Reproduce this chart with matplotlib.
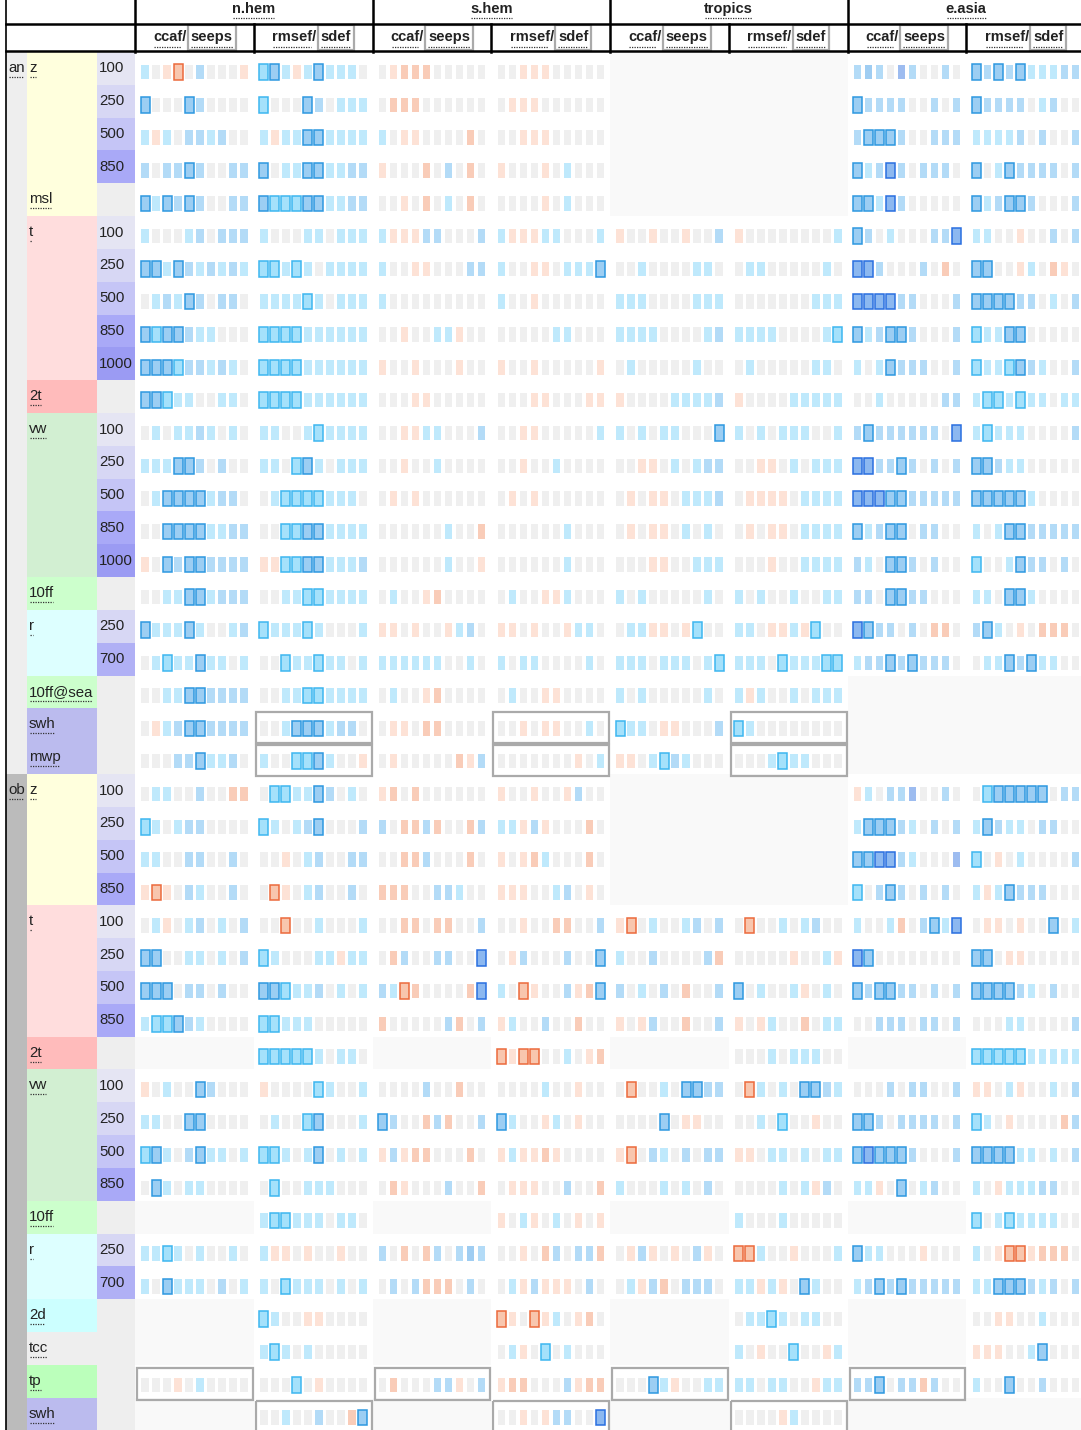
import matplotlib
matplotlib.use("Agg")
import matplotlib.pyplot as plt
from matplotlib.patches import Rectangle

plt.rcParams['font.family'] = ['Liberation Sans', 'DejaVu Sans']

# ---------------- data ----------------
regions = ["n.hem", "s.hem", "tropics", "e.asia"]
sub_left = ["ccaf/", "rmsef/"]
sub_right = ["seeps", "sdef"]

sections = [("an", 0, 22), ("ob", 22, 20)]
params = [  # (label, first row, n rows, colour)
    ("z", 0, 4, "#ffffdd"), ("msl", 4, 1, "#ffffdd"), ("t", 5, 5, "#ffdddd"),
    ("2t", 10, 1, "#ffbbbb"), ("vw", 11, 5, "#d2efd2"), ("10ff", 16, 1, "#ccffcc"),
    ("r", 17, 2, "#ddffff"), ("10ff@sea", 19, 1, "#ccffcc"), ("swh", 20, 1, "#bbbbee"),
    ("mwp", 21, 1, "#bbbbee"),
    ("z", 22, 4, "#ffffdd"), ("t", 26, 4, "#ffdddd"), ("2t", 30, 1, "#ffbbbb"),
    ("vw", 31, 4, "#d2efd2"), ("10ff", 35, 1, "#ccffcc"), ("r", 36, 2, "#ddffff"),
    ("2d", 38, 1, "#ccffff"), ("tcc", 39, 1, "#eeeeee"), ("tp", 40, 1, "#bbffbb"),
    ("swh", 41, 1, "#bbbbee"),
]
levels = ["100", "250", "500", "850", "", "100", "250", "500", "850", "1000", "",
          "100", "250", "500", "850", "1000", "", "250", "700", "", "", "",
          "100", "250", "500", "850", "100", "250", "500", "850", "",
          "100", "250", "500", "850", "", "250", "700", "", "", "", ""]

nhem_ccaf = ["c.oR.b...o", "X...Xb....", "coc.bbcb..", "b.bbXb..bb", "XcXbXb..bb",
             "c...cb.bbb", "XXcXbcbcbc", ".cbcXb.bb.", "XxXXbcc...", "XXXxbbcbc.",
             "XXxcc..cc.", ".c.ccbc.c.", "cccXXb.b..", ".cXXXXcbb.", "..XXXXccbb",
             "o.XbXXbbbb", "..ccXXcbbb", "XcccXc..cb", ".cxccXcc.c", "..ccXXbbbb",
             ".ocbXXbbbb", "...bbXccb.", ".cc..b..OO", "xc.cbb....", "cc..bb..b.",
             "oRo.bc..b.", ".co.cb.c.b", "XX..cc.c.b", "XXX.bb.b..", "cxxXbc....",
             "", "o.c..Xb...", "cc..XX....", "xXc.bXcc.c", ".Xc.cc....", "",
             "ccxc.c..c.", "c.Xccc.b.c", "", "", "...o.c....", ""]
nhem_rmsef = ["xXcocXccc.", "x...Xb.ccc", "coccXXcccc", "X.ccXXccbb", "XxxxXXccbb",
              "c...cc.ccc", "xxcxc.cccc", "ccccxc.ccc", "xxxxcccccc", "xxxxcccccc",
              "xxxxcccccc", "cc..cxcccc", "cc.xXc.ccc", ".cxxxxccc.", "..xxXXcccc",
              "ooxxXXcccb", "..ccxxcccc", "xcccxc...c", "..xccxcc.c", "..ccxxcccc",
              "..cXXXcbb.", "c..xxXc..o", ".xxccXb.c.", "xc.cbX...b", "..o.cb..bb",
              ".Ro.cb..b.", "..R..c...c", "xc...ccocc", "XXxccb.c.c", "xxccc.....",
              "xxxxxc.cc.", "o....xc..c", ".c..xX...c", "xxc.cX.c.c", ".x..ccc...",
              "cxxccc.cc.", "coo.o..o..", "c.xccc.c.c", "xc..oo....", "cxc.c.....",
              "...x.o....", "..c..b..OX"]
shem_ccaf = [".oOOO.....", ".OOO......", "c.oo....O.", "o...O.b.O.", "..o.O.c.O.",
             "cooobb...b", "c..oo...bb", "c.........", "..o..cco..", "o..o...o..",
             "...oo.....", "..oocc...b", "..o..c....", ".o.o......", "......c..O",
             "......c..o", ".c..oO....", "oo.o..ocb.", "cccccc..c.", ".c..oO....",
             ".oo.OO....", ".o.....Oob", "oO.O......", "b.OObO..Ob", "..OOb...O.",
             "OOO..bbc..", "..OO.OO..b", ".Ob..bb..Z", "bcRO....OZ", "O.....bO.b",
             "", "....b..O..", "Xb..ObO..b", "oboOO...O.", ".Oo...b..O", "",
             "b.O.Ob.bBb", ".b.bOOO.b.", "", "", ".O...bbo.b", ""]
shem_rmsef = ["..ooo.....", ".ooo......", "..ooo.....", "o...o.c...", "....o.c...",
              "cooocc...c", "c..oo.cccX", "c..o......", ".....cc...", "o..o.....o",
              "...oo...oo", "..oo.....c", "..o..c....", ".o.o......", "......c...",
              "......c...", ".c..ooc...", "oo.o..occ.", "c.cc....c.", ".c..oo....",
              "..o.oo..c.", ".......o.c", "o..o..ob..", "ccobo...O.", "o.oOc...O.",
              "ooo..cb.o.", "..o..OO..b", ".ob...b..X", "c.Ro..boOX", "oc..b..O..",
              "RoRR..c.oO", "....c..o..", "Xc..oc.o..", "ocooOo....", ".ooo..b..O",
              "o.co.c.o.o", "..o.Ob.bbO", ".cobooo.b.", "Ro.Roc.oO.", ".co.x.c...",
              "oOO...boOO", "..o.obb..Z"]
trop_ccaf = ["", "", "", "", "",
             "o..o..o..b", "..c....cc.", "ccc....ccc", "cccc....cb", ".c.....c..",
             "o....ccccb", "c.c.cc...X", "..oo.c.cbb", ".o.oo.cccb", ".o.oo.c.c.",
             "...oo..ccc", "c.c.....c.", ".ccoo.ox..", "ccc.ccc.cx", "c.c.....c.",
             "xcc.oo...b", "oo.cxbc...", "", "", "", "",
             "oR.c..cb.b", "c..b....bO", "b.c.b.O..b", "o.ob..O..b",
             "", ".R..c.XXbb", "....X.oo..", "oR.bc.b.bb", "c...c.c.b.", "",
             ".obo.o.bo.", ".cobO.bbb.", "", "", "...Xco..cc", ""]
trop_rmsef = ["", "", "", "", "",
              "o........c", ".cc.....c.", ".......ccc", "cccc....cx", ".c.....cc.",
              "o....ccccc", "c.c.ccc..c", "..oo.c.ccc", ".oooo.cccc", ".o.oo.cccc",
              "...o..cccc", "c.c..c..cc", "cc.oocox..", "ccc.xcccxx", "coc..c.ccc",
              "xc........", "...cxcc...", "", "", "", "",
              ".R..c.cb..", ".....o..co", "X.c..co.c.", "o.oc..O.cc",
              "...c.ccc..", ".Rc.c.XXbc", "..c.x..o..", "oo.cc.c.cc", "....c.cob.",
              "c...c.....", "RRc..o...c", "ccoco.Xc..", ".ccxc.cc..", "c.o..x..oc",
              "cc.cc..occ", "....oc...."]
easia_ccaf = ["bBb.db..b.", "Xbbbb..b.b", "bXXXb..bbb", "XcbZb.bbb.", "XXcZb.....",
              "Xb.c...bbZ", "ZZb...b.O.", "ZZZZbb...b", "XcbXXb...b", "c.cXbbb..b",
              "..c.....bb", "bXbbbbbb.Z", "ZZbbXb.b.b", "ZZZXXbbbbb", "XcbXX.bb..",
              "bc.XXb.b..", "bb.XXbb...", "ZXbb.b.OO.", "cbbXbXbbb.", "", "", "",
              "oc.bbd..b.", "cXXXbc.b.b", "XXZZbc...d", "x.bXb.b.b.",
              "c..cO.bXcZ", "ZX........", "XbXXbb.b.b", "..bbb.bb.b",
              "", "...b.bb..b", "XXb.bbbb.b", "XZXXXb...b", "cco.X.cb..", "",
              "Xcc...o...", "cbXbXbbbbb", "", "", "bbX.bbOb..", ""]
easia_rmsef = ["XbXbXcccbb", "Xbbbb.cb..", "ccccb.b..b", "X.cXbbbb.b", "XcbXXb...b",
               "cc..o..b.b", "XX..oc.Oo.", "XXXXbb.c.b", "xccXX.....", "xccxXbc..b",
               "cxxcxcc.cc", "cxccc....b", "XXbcc.....", "XXXXXc....", "c.cXXbbbbb",
               "x..cXbb.b.", "cc.XXc....", "bXc.o.OOO.", ".ccXbXcc..", "", "", "",
               ".xXXXXX.bb", "cXbcc.bb..", "x.o.c....b", "cocXbbb...",
               ".oo.o..X.c", "XX.oo.....", "XXXXbc.b..", "...cc....b",
               "xxxxxccccc", "oo.co..c.b", "xc.o....Ob", "XXXXcc.c.b", "c.occcbb..",
               "x.cxcccc..", "c.oRRoOOO.", "ccXXXbcb.b", "..oo..c...", "ooo..cX...",
               "c..X..b...", ""]

boxed = [(20, 0, 1), (21, 0, 1), (20, 1, 1), (21, 1, 1), (20, 2, 1), (21, 2, 1),
         (40, 0, 0), (40, 1, 0), (40, 2, 0), (40, 3, 0),
         (41, 0, 1), (41, 1, 1), (41, 2, 1)]

# ---------------- styling ----------------
cell_fill = {'.': '#efefef', 'c': '#bfe9fc', 'b': '#b3dbf7', 'B': '#9fcdf2',
             'd': '#9dbcf0', 'o': '#fde2d6', 'O': '#f9ccb8',
             'x': '#a5e1fb', 'X': '#9ccef3', 'Z': '#8cb8f0', 'R': '#f8c6ae'}
cell_edge = {'x': '#3db6f0', 'X': '#2e98e0', 'Z': '#2a6fe0', 'R': '#ec6a3c'}
level_col = {"100": "#e5e5f3", "250": "#d7d7f4", "500": "#c5c5f6", "700": "#b0b0f5",
             "850": "#a9a9f7", "1000": "#9b9bf3", "": "#eeeeee"}
section_col = {"an": "#eeeeee", "ob": "#bbbbbb"}

W, H = 1081, 1430
top = 52.0
row_h = 32.82
reg_x0 = 135.0
reg_w = 237.5
sub_w = reg_w / 2
nrows = len(levels)

fig = plt.figure(figsize=(W / 100, H / 100), dpi=100)
ax = fig.add_axes([0, 0, 1, 1])
ax.set_xlim(0, W)
ax.set_ylim(H, 0)
ax.axis('off')

data = [[nhem_ccaf, nhem_rmsef], [shem_ccaf, shem_rmsef],
        [trop_ccaf, trop_rmsef], [easia_ccaf, easia_rmsef]]

def rtop(i):
    return top + i * row_h

underlines = []

# left label columns
for name, r0, n in sections:
    ax.add_patch(Rectangle((6, rtop(r0)), 21, n * row_h, fc=section_col[name], ec='none', zorder=1))
    t = ax.text(8, rtop(r0) + 16, name, ha='left', va='center', fontsize=10.8, color='#222222', zorder=3)
    underlines.append(t)
for name, r0, n, col in params:
    ax.add_patch(Rectangle((27, rtop(r0)), 70, n * row_h, fc=col, ec='none', zorder=1))
    t = ax.text(29, rtop(r0) + 16, name, ha='left', va='center', fontsize=10.8, color='#222222', zorder=3)
    underlines.append(t)
for i, lv in enumerate(levels):
    ax.add_patch(Rectangle((97, rtop(i)), 38, row_h, fc=level_col[lv], ec='none', zorder=1))
    if lv:
        ax.text(99, rtop(i) + 16.5, lv, ha='left', va='center', fontsize=10.8, color='#222222', zorder=3)

# cells
for r, pair in enumerate(data):
    for s, rows in enumerate(pair):
        x0 = reg_x0 + r * reg_w + s * sub_w
        for i, st in enumerate(rows):
            if st == "":
                ax.add_patch(Rectangle((x0, rtop(i)), sub_w, row_h, fc='#f9f9f9', ec='none', zorder=1))
                continue
            yc = rtop(i) + 20
            for k, ch in enumerate(st):
                xc = x0 + 10 + 11 * k
                if ch in cell_edge:
                    ax.add_patch(Rectangle((xc - 4.5, yc - 7.75), 9, 15.5, fc=cell_fill[ch],
                                           ec=cell_edge[ch], lw=1.1, zorder=3))
                else:
                    ax.add_patch(Rectangle((xc - 3.75, yc - 7.25), 7.5, 14.5, fc=cell_fill[ch],
                                           ec='none', zorder=2))

for i, r, s in boxed:
    x0 = reg_x0 + r * reg_w + s * sub_w
    ax.add_patch(Rectangle((x0 + 2, rtop(i) + 3.5), sub_w - 3, row_h - 1.5, fc='none',
                           ec='#aaaaaa', lw=1.6, zorder=4))

# header
for r, name in enumerate(regions):
    xc = reg_x0 + r * reg_w + reg_w / 2
    t = ax.text(xc, 9, name, ha='center', va='center', fontsize=10.5, fontweight='bold',
                color='#222222', zorder=5)
    underlines.append(t)

fig.canvas.draw()
rend = fig.canvas.get_renderer()
inv = ax.transData.inverted()

def ext(t):
    bb = t.get_window_extent(rend)
    (xa, ya), (xb, yb) = inv.transform([[bb.x0, bb.y0], [bb.x1, bb.y1]])
    return min(xa, xb), max(xa, xb), min(ya, yb), max(ya, yb)

def dotted(xa, xb, y):
    ax.plot([xa, xb], [y, y], color='#333333', lw=0.9, ls=(0, (1, 1)), zorder=6,
            solid_capstyle='butt', dash_capstyle='butt')

for r in range(4):
    for s in range(2):
        xc = reg_x0 + r * reg_w + s * sub_w + sub_w / 2
        t1 = ax.text(0, 37, sub_left[s], ha='left', va='center', fontsize=10.5,
                     fontweight='bold', color='#222222', zorder=6)
        t2 = ax.text(0, 37, sub_right[s], ha='left', va='center', fontsize=10.5,
                     fontweight='bold', color='#222222', zorder=6)
        a1, b1, _, _ = ext(t1)
        a2, b2, _, _ = ext(t2)
        w1, w2 = b1 - a1, b2 - a2
        gap = 4
        start = xc - (w1 + gap + w2 + 3) / 2
        t1.set_x(start)
        t2.set_x(start + w1 + gap)
        bx = start + w1 + gap - 3
        ax.add_patch(Rectangle((bx, 25), w2 + 6, 25, fc='white', ec='#aaaaaa', lw=1.6, zorder=5))
        dotted(start + 1, start + w1 - 6, 47)
        dotted(start + w1 + gap, start + w1 + gap + w2, 47)

for t in underlines:
    a, b, y0, y1 = ext(t)
    dotted(a + 1, b - 1, y1 + 2)

# grid lines of the header
lw_thick = 1.8
ax.plot([6, 6], [0, H], color='black', lw=1.2, zorder=7)
ax.plot([6, W], [23.5, 23.5], color='black', lw=lw_thick, zorder=7)
ax.plot([6, W], [51.3, 51.3], color='black', lw=lw_thick, zorder=7)
for r in range(5):
    x = reg_x0 + r * reg_w
    ax.plot([x, x], [0, 52], color='black', lw=lw_thick, zorder=7)
for r in range(4):
    x = reg_x0 + r * reg_w + sub_w
    ax.plot([x, x], [23.5, 52], color='black', lw=lw_thick, zorder=7)

fig.savefig("out.png", dpi=100)
